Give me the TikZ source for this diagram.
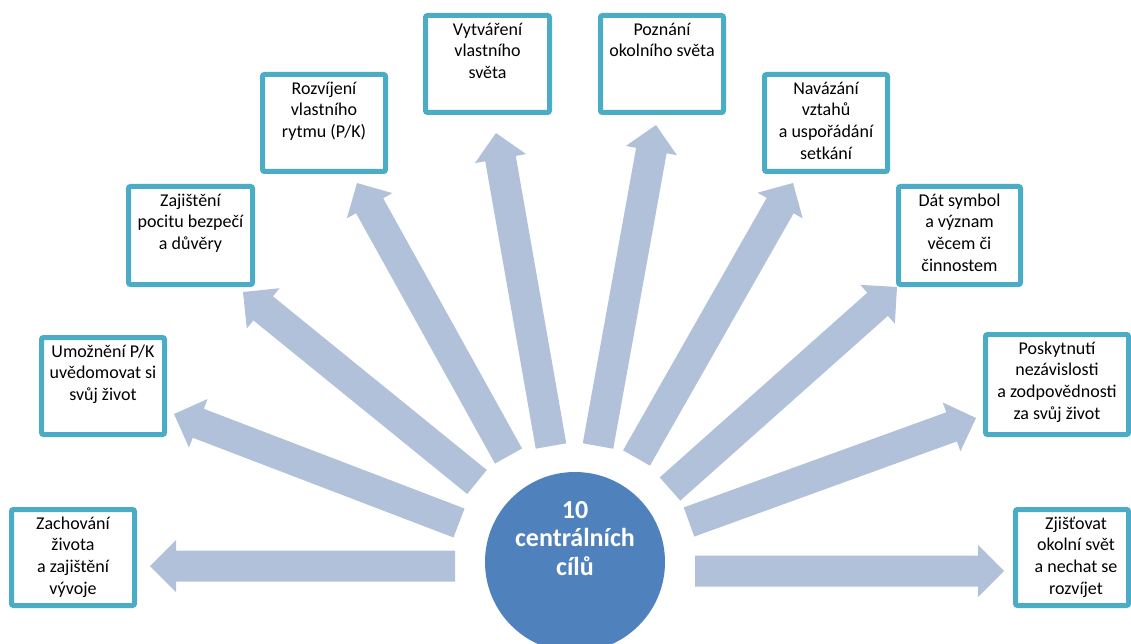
\documentclass[tikz,border=0pt]{standalone}
\usepackage{fontspec}
\setmainfont{Carlito}
\usetikzlibrary{calc}
\definecolor{arrowblue}{HTML}{B2C1DA}
\definecolor{boxteal}{HTML}{4BACC6}
\definecolor{circblue}{HTML}{4F81BD}
\newcommand\fatarrow[2]{%
  \coordinate (#2base) at ($(#2)!26pt!(#1)$);
  \fill[arrowfill] ($(#1)!15.5pt!90:(#2)$)
    -- ($(#2base)!15.5pt!-90:(#1)$)
    -- ($(#2base)!26pt!-90:(#1)$)
    -- (#2)
    -- ($(#2base)!26pt!90:(#1)$)
    -- ($(#2base)!15.5pt!90:(#1)$)
    -- ($(#1)!15.5pt!-90:(#2)$) -- cycle;}
\tikzset{
  arrowfill/.style={fill=arrowblue},
  gbox/.style={draw=boxteal, line width=5pt, fill=white, rounded corners=2pt,
    inner sep=0pt, minimum width=123pt, minimum height=97pt},
  lbl/.style={font=\fontsize{18}{21.7}\selectfont, align=center, inner sep=0pt, anchor=north, text=black},
  ctext/.style={font=\bfseries\fontsize{26}{28.5}\selectfont, align=center, inner sep=0pt, anchor=north, text=white}
}
\begin{document}
\begin{tikzpicture}[x=1pt,y=-1pt]
\useasboundingbox (0,0) rectangle (1131,644);
\clip (0,0) rectangle (1131,644);
% arrow end points
\coordinate (t1) at (455,566);   \coordinate (p1) at (150,566);
\coordinate (t2) at (459,523);   \coordinate (p2) at (174,414);
\coordinate (t3) at (477,482);   \coordinate (p3) at (243,292);
\coordinate (t4) at (508.5,456); \coordinate (p4) at (357,183);
\coordinate (t5) at (551,446);   \coordinate (p5) at (496,133);
\coordinate (t6) at (598,446);   \coordinate (p6) at (656,125);
\coordinate (t7) at (636.5,458); \coordinate (p7) at (793,183);
\coordinate (t8) at (670,489);   \coordinate (p8) at (897,287);
\coordinate (t9) at (689,522);   \coordinate (p9) at (976,418);
\coordinate (t10) at (695,571);  \coordinate (p10) at (1004,571);
\fatarrow{t1}{p1}
\fatarrow{t2}{p2}
\fatarrow{t3}{p3}
\fatarrow{t4}{p4}
\fatarrow{t5}{p5}
\fatarrow{t6}{p6}
\fatarrow{t7}{p7}
\fatarrow{t8}{p8}
\fatarrow{t9}{p9}
\fatarrow{t10}{p10}
% boxes
\node[gbox, minimum height=96pt] (b1) at (73,557.5) {};
\node[gbox] (b2) at (103,386) {};
\node[gbox, minimum width=124pt, minimum height=98pt] (b3) at (190.5,235.5) {};
\node[gbox] (b4) at (324,123) {};
\node[gbox, minimum width=124pt] (b5) at (487.5,64) {};
\node[gbox] (b6) at (662,64) {};
\node[gbox] (b7) at (826,123) {};
\node[gbox, minimum width=122pt, minimum height=98pt] (b8) at (959.5,235.5) {};
\node[gbox, minimum width=143pt, minimum height=100pt] (b9) at (1057,384.5) {};
\node[gbox, minimum width=113pt, minimum height=96pt] (b10) at (1072,557.5) {};
% labels
\node[lbl] (l1) at ($(b1.north)+(0,5)$) {\rule{0pt}{17pt}Zachování\\života\\a zajištění\\vývoje};
\node[lbl] (l2) at ($(b2.north)+(0,5)$) {\rule{0pt}{17pt}Umožnění P/K\\uvědomovat si\\svůj život};
\node[lbl] (l3) at ($(b3.north)+(0,5)$) {\rule{0pt}{17pt}Zajištění\\pocitu bezpečí\\a důvěry};
\node[lbl] (l4) at ($(b4.north)+(0,5)$) {\rule{0pt}{17pt}Rozvíjení\\vlastního\\rytmu (P/K)};
\node[lbl] (l5) at ($(b5.north)+(0,5)$) {\rule{0pt}{17pt}Vytváření\\vlastního\\světa};
\node[lbl] (l6) at ($(b6.north)+(0,5)$) {\rule{0pt}{17pt}Poznání\\okolního světa};
\node[lbl] (l7) at ($(b7.north)+(0,5)$) {\rule{0pt}{17pt}Navázání\\vztahů\\a uspořádání\\setkání};
\node[lbl] (l8) at ($(b8.north)+(0,5)$) {\rule{0pt}{17pt}Dát symbol\\a význam\\věcem či\\činnostem};
\node[lbl] (l9) at ($(b9.north)+(0,5)$) {\rule{0pt}{17pt}Poskytnutí\\nezávislosti\\a zodpovědnosti\\za svůj život};
\node[lbl] (l10) at ($(b10.north)+(4,5)$) {\rule{0pt}{17pt}Zjišťovat\\okolní svět\\a nechat se\\rozvíjet};
% centre
\node[circle, fill=circblue, minimum size=180pt, inner sep=0pt] (c) at (575,562) {};
\node[ctext] (ct) at (575,499) {\rule{0pt}{19pt}10\\centrálních\\cílů};
\end{tikzpicture}
\end{document}
